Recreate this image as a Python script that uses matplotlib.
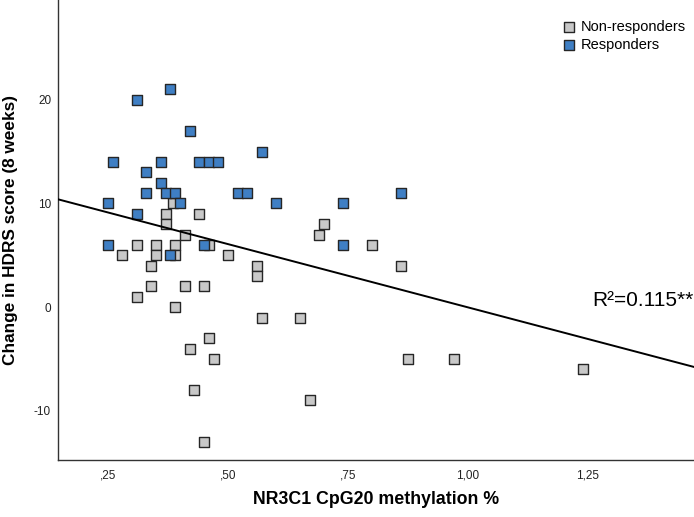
import matplotlib
matplotlib.use("Agg")
import matplotlib.pyplot as plt
import numpy as np

plt.rcParams['font.family'] = ['Liberation Sans', 'DejaVu Sans']
plt.rcParams['axes.unicode_minus'] = False

# non-responders (grey)
non_x = [0.28, 0.31, 0.31, 0.34, 0.34, 0.35, 0.35, 0.37, 0.37, 0.385, 0.39, 0.39, 0.39,
         0.41, 0.41, 0.42, 0.43, 0.44, 0.45, 0.45, 0.46, 0.46, 0.47, 0.50, 0.56, 0.56,
         0.57, 0.65, 0.67, 0.69, 0.70, 0.80, 0.86, 0.875, 0.97, 1.24]
non_y = [5, 6, 1, 4, 2, 6, 5, 9, 8, 10, 6, 5, 0,
         7, 2, -4, -8, 9, 2, -13, 6, -3, -5, 5, 4, 3,
         -1, -1, -9, 7, 8, 6, 4, -5, -5, -6]

# responders (blue)
resp_x = [0.25, 0.25, 0.26, 0.31, 0.31, 0.33, 0.33, 0.36, 0.36, 0.37, 0.38, 0.39, 0.40,
          0.38, 0.42, 0.44, 0.46, 0.48, 0.45, 0.52, 0.54, 0.57, 0.60, 0.74, 0.74, 0.86]
resp_y = [10, 6, 14, 20, 9, 13, 11, 14, 12, 11, 21, 11, 10,
          5, 17, 14, 14, 14, 6, 11, 11, 15, 10, 10, 6, 11]

# fit line
fit_intercept = 12.18
fit_slope = -12.2
r2_label = "R²=0.115**"

xticks = [0.25, 0.50, 0.75, 1.00, 1.25]
xtick_labels = [",25", ",50", ",75", "1,00", "1,25"]
yticks = [-10, 0, 10, 20]

fig = plt.figure(figsize=(6.94, 5.17), dpi=100)
ax = fig.add_axes([0.0836, 0.110, 0.9164, 0.8897])

xmin, xmax = 0.146, 1.471
ax.set_xlim(xmin, xmax)
ax.set_ylim(-14.75, 29.6)

ax.scatter(non_x, non_y, marker='s', s=42, facecolor='#c8c8c8', edgecolor='#262626',
           linewidth=1.0, label='Non-responders', zorder=3)
ax.scatter(resp_x, resp_y, marker='s', s=42, facecolor='#3f7fc4', edgecolor='#262626',
           linewidth=1.0, label='Responders', zorder=3)

lx = np.array([xmin, xmax])
ax.plot(lx, fit_intercept + fit_slope * lx, color='black', linewidth=1.4, zorder=4)

ax.text(1.469, 0.6, r2_label, ha='right', va='center', fontsize=15)

ax.set_xticks(xticks)
ax.set_xticklabels(xtick_labels)
ax.set_yticks(yticks)
ax.tick_params(length=0, labelsize=8.5, colors='#222222')
ax.tick_params(axis='y', pad=5)
ax.tick_params(axis='x', pad=6.5)

for s in ['top', 'right']:
    ax.spines[s].set_visible(False)
for s in ['left', 'bottom']:
    ax.spines[s].set_color('#333333')
    ax.spines[s].set_linewidth(1.0)

ax.set_xlabel("NR3C1 CpG20 methylation %", fontsize=12.8, fontweight='bold', va='center')
ax.xaxis.set_label_coords(0.5, -0.086)
ax.set_ylabel("Change in HDRS score (8 weeks)", fontsize=12.4, fontweight='bold', va='center')
ax.yaxis.set_label_coords(-0.074, 0.5)

leg = ax.legend(loc='upper right', bbox_to_anchor=(1.005, 0.983), frameon=False, fontsize=10.5,
                handletextpad=0.3, borderpad=0.3, labelspacing=0.3, markerscale=1.2,
                handlelength=1.0)

fig.savefig("out.png", dpi=100)
